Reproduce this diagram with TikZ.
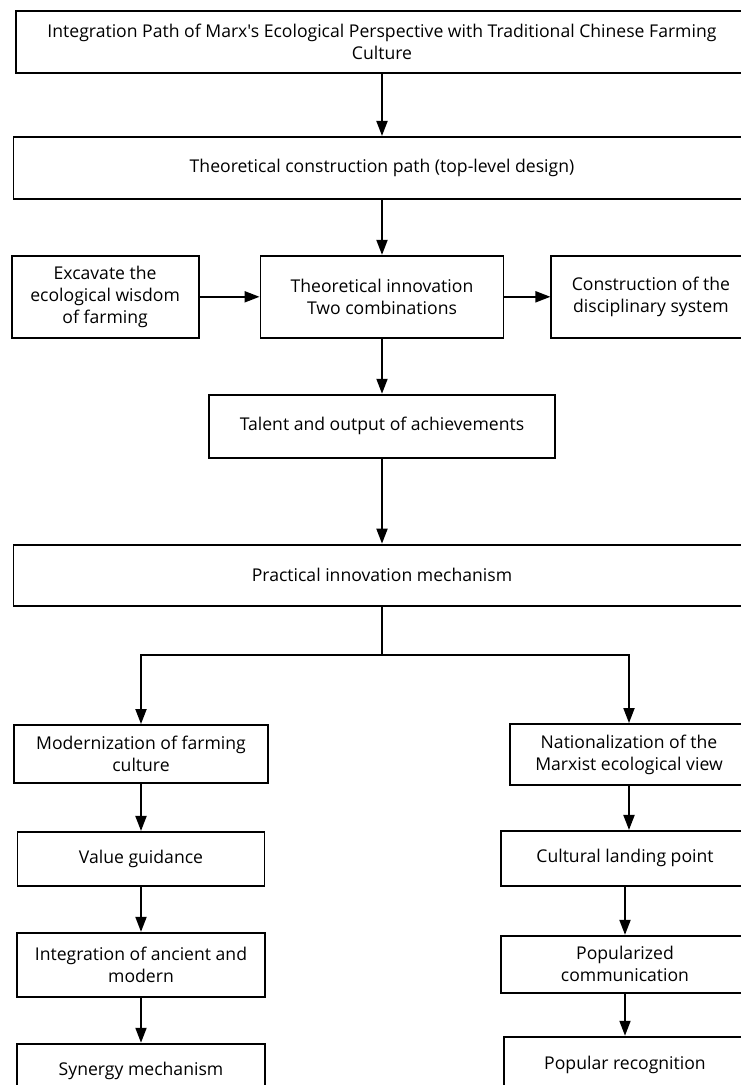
\documentclass[tikz,border=0pt]{standalone}
\usepackage{fontspec}
\setmainfont{Open Sans}[Ligatures=TeXOff]
\usetikzlibrary{positioning}
\usetikzlibrary{arrows.meta}

\tikzset{
  box/.style={rectangle, draw=black, line width=1.9pt, align=center, inner sep=0pt,
              font=\fontsize{17.6}{22}\selectfont},
  flow/.style={line width=1.9pt, -{Triangle[length=15pt,width=11pt]}},
}

\begin{document}
\begin{tikzpicture}[x=1pt, y=-1pt]
    \useasboundingbox (0,0) rectangle (741,1085);
    \clip (0,0) rectangle (741,1085);

    % Theoretical path
    \node[box, minimum width=732pt, minimum height=62pt] (title) at (382,42)
        {Integration Path of Marx's Ecological Perspective with Traditional Chinese Farming\\Culture};
    \node[box, minimum width=737pt, minimum height=62pt, below=62pt of title] (path)
        {Theoretical construction path (top-level design)};
    \draw[flow] (title) -- (path);
    \node[box, minimum width=243pt, minimum height=82pt, below=55pt of path] (innov)
        {Theoretical innovation\\Two combinations};
    \draw[flow] (path) -- (innov);
    \node[box, minimum width=187pt, minimum height=82pt, left=60pt of innov] (wisdom)
        {Excavate the\\ecological wisdom\\of farming};
    \draw[flow] (wisdom) -- (innov);
    \node[box, minimum width=199pt, minimum height=82pt, right=46pt of innov] (disc)
        {Construction of the\\disciplinary system};
    \draw[flow] (innov) -- (disc);
    \node[box, minimum width=346pt, minimum height=63pt, below=55pt of innov] (talent)
        {Talent and output of achievements};
    \draw[flow] (innov) -- (talent);

    % Practical mechanism
    \node[box, minimum width=737pt, minimum height=61pt, below=85pt of talent] (practice)
        {Practical innovation mechanism};
    \draw[flow] (talent) -- (practice);
    \coordinate[below=48pt of practice] (split);
    \draw[line width=1.9pt] (practice) -- (split);

    % Left branch
    \node[box, minimum width=254pt, minimum height=58pt] (modern) at (141,754)
        {Modernization of farming\\culture};
    \draw[flow] (split) -| (modern);
    \node[box, minimum width=247pt, minimum height=54pt, below=47pt of modern] (value)
        {Value guidance};
    \draw[flow] (modern) -- (value);
    \node[box, minimum width=248pt, minimum height=64pt, below=45pt of value] (integ)
        {Integration of ancient and\\modern};
    \draw[flow] (value) -- (integ);
    \node[box, minimum width=248pt, minimum height=54pt, below=45pt of integ] (synergy)
        {Synergy mechanism};
    \draw[flow] (integ) -- (synergy);

    % Right branch
    \node[box, minimum width=238pt, minimum height=61pt] (national) at (629,754.5)
        {Nationalization of the\\Marxist ecological view};
    \draw[flow] (split) -| (national);
    \node[box, minimum width=248pt, minimum height=55pt, below=44pt of national, xshift=-4pt] (landing)
        {Cultural landing point};
    \draw[flow] (national.south) -- (national.south |- landing.north);
    \node[box, minimum width=248pt, minimum height=57pt, below=48pt of landing] (popcomm)
        {Popularized\\communication};
    \draw[flow] (landing) -- (popcomm);
    \node[box, minimum width=242pt, minimum height=56pt, below=42pt of popcomm] (recog)
        {Popular recognition};
    \draw[flow] (popcomm) -- (recog);
\end{tikzpicture}
\end{document}
